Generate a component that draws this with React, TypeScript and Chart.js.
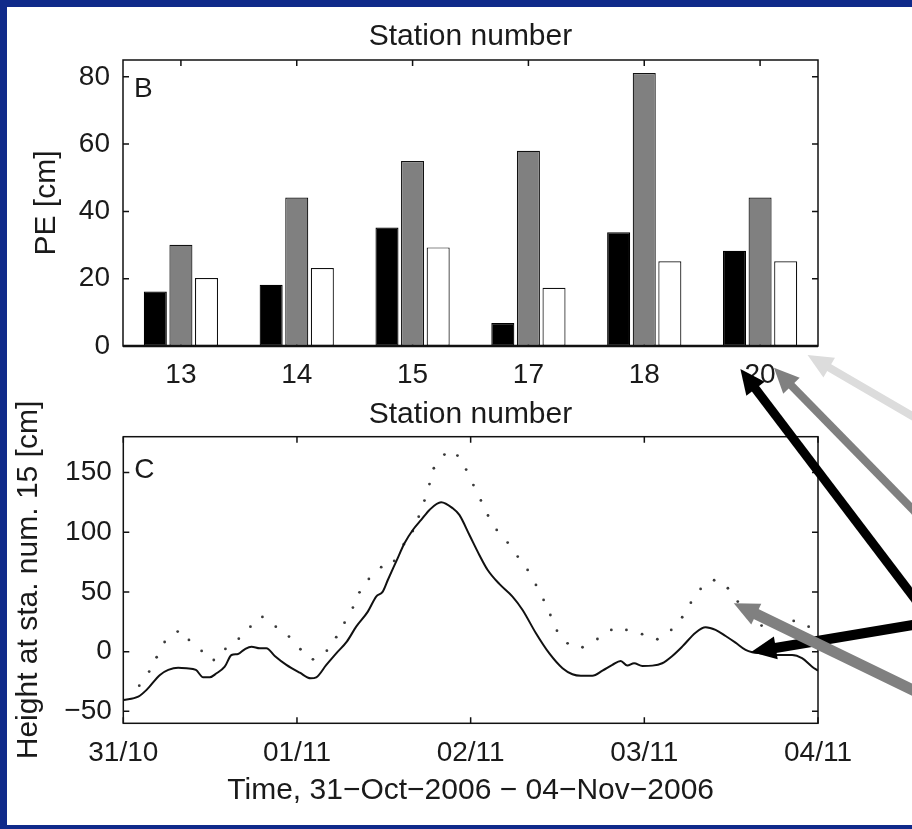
import React, { useEffect, useRef } from 'react';
import { Chart, registerables } from 'chart.js';
Chart.register(...registerables);

// ---------- Panel B : bar chart ----------
const stations = ['13', '14', '15', '17', '18', '20'];
const peBlack = [16.2, 18.2, 35.2, 6.8, 33.8, 28.3];
const peGray = [30.1, 44.1, 55.0, 58.0, 81.1, 44.1];
const peWhite = [20.2, 23.2, 29.3, 17.3, 25.2, 25.2];
const peTicks = [0, 20, 40, 60, 80];

// ---------- Panel C : time series ----------
const timeTicks = [0, 1, 2, 3, 4];
const timeLabels = ['31/10', '01/11', '02/11', '03/11', '04/11'];
const heightTicks = [-50, 0, 50, 100, 150];

const solidX = [0, 0.086, 0.134, 0.211, 0.259, 0.316, 0.364, 0.418, 0.46, 0.498, 0.537, 0.584, 0.623, 0.661, 0.699, 0.738, 0.786, 0.824, 0.872, 0.939, 1.016, 1.079, 1.111, 1.169, 1.226, 1.287, 1.341, 1.408, 1.456, 1.494, 1.523, 1.571, 1.619, 1.667, 1.715, 1.763, 1.83, 1.897, 1.935, 1.993, 2.05, 2.098, 2.165, 2.241, 2.299, 2.376, 2.452, 2.529, 2.586, 2.635, 2.701, 2.759, 2.816, 2.864, 2.902, 2.941, 2.989, 3.046, 3.103, 3.161, 3.218, 3.295, 3.353, 3.41, 3.468, 3.525, 3.583, 3.621, 3.678, 3.755, 3.851, 3.908, 3.966, 4.0];
const solidY = [-40.5, -37.7, -32, -19.5, -15.3, -13.4, -13.9, -15.3, -21.5, -21.5, -18.1, -12.6, -2.8, -1.9, 2, 4.2, 2.8, 2.8, -3.6, -11.1, -17.6, -22.3, -21.5, -11.1, -1.4, 8.4, 20.9, 33.5, 46.1, 50.3, 60, 75.4, 90.8, 101.9, 110.3, 118.7, 125.1, 120.1, 114.5, 97.7, 81, 68.4, 56.7, 46.1, 34.9, 15.4, -1.3, -13.9, -18.9, -20.1, -20.1, -15.9, -11.1, -7.8, -11.7, -9.7, -12, -11.7, -9.7, -3.6, 4.2, 15.9, 20.4, 18.2, 13.1, 7.5, 1.4, -0.5, -1.3, -2.8, -2.8, -5.5, -12.6, -16];

const dotX = [0.092, 0.149, 0.192, 0.238, 0.313, 0.378, 0.451, 0.521, 0.588, 0.665, 0.732, 0.801, 0.878, 0.954, 1.02, 1.092, 1.172, 1.226, 1.274, 1.322, 1.36, 1.414, 1.485, 1.56, 1.615, 1.667, 1.701, 1.734, 1.763, 1.788, 1.849, 1.924, 1.974, 2.016, 2.059, 2.1, 2.15, 2.213, 2.271, 2.328, 2.376, 2.42, 2.459, 2.497, 2.558, 2.644, 2.73, 2.81, 2.897, 2.987, 3.075, 3.155, 3.218, 3.268, 3.324, 3.402, 3.481, 3.538, 3.6, 3.675, 3.77, 3.86, 3.946];
const dotY = [-28.5, -16.7, -4.7, 8.1, 16.8, 9.8, 0.6, -7, 2.3, 10.9, 20.9, 29.1, 20.9, 12.6, 2, -6.4, 0.8, 12.1, 24.3, 36.9, 49.7, 60.9, 70.7, 76, 90, 101, 113, 126.5, 140.3, 153.6, 165, 164.2, 152.5, 139.5, 126.6, 114, 101.9, 91.3, 79.6, 68.4, 55.9, 43.3, 30.7, 17.6, 7, 3.7, 10.6, 18.2, 18.2, 14.6, 10.4, 18.2, 28.8, 41, 52.5, 59.8, 53.1, 41.9, 31, 21.8, 23, 25.7, 20.9];

// ---------- Annotation arrows (anchored in data coordinates) ----------
const arrowsB = [
  { tip: [5.41, -2.7], tail: [6.4, -22.5], color: '#dcdcdc', width: 8 },
  { tip: [5.12, -6.5], tail: [6.4, -51.5], color: '#808080', width: 8 },
  { tip: [4.83, -6.8], tail: [6.4, -78.0], color: '#000000', width: 9 },
];
const arrowsC = [
  { tip: [3.615, -0.3], tail: [4.6, 23.6], color: '#000000', width: 10 },
  { tip: [3.515, 40.5], tail: [4.6, -36.0], color: '#808080', width: 11 },
];

const FONT = "'Liberation Sans', Arial, Helvetica, sans-serif";
const TXT = '#1a1a1a';
const NAVY = '#102a8a';

const W = 912;
const B_TOP = 0, B_H = 436;
const C_TOP = 395, C_H = 434;

const framePlugin = {
  id: 'frame',
  beforeDatasetsDraw(chart: any, _a: any, opts: any) {
    const { ctx, chartArea: a } = chart;
    const xs = chart.scales.x, ys = chart.scales.y;
    const tl = 6;
    ctx.save();
    ctx.strokeStyle = '#111';
    ctx.lineWidth = 1.5;
    ctx.beginPath();
    xs.ticks.forEach((_t: any, i: number) => {
      const p = xs.getPixelForTick(i);
      ctx.moveTo(p, a.bottom); ctx.lineTo(p, a.bottom - tl);
      ctx.moveTo(p, a.top); ctx.lineTo(p, a.top + tl);
    });
    ys.ticks.forEach((_t: any, i: number) => {
      const p = ys.getPixelForTick(i);
      ctx.moveTo(a.left, p); ctx.lineTo(a.left + tl, p);
      ctx.moveTo(a.right, p); ctx.lineTo(a.right - tl, p);
    });
    ctx.stroke();
    ctx.strokeRect(a.left, a.top, a.right - a.left, a.bottom - a.top);
    if (opts.label) {
      ctx.fillStyle = TXT;
      ctx.font = `28px ${FONT}`;
      ctx.textBaseline = 'alphabetic';
      ctx.textAlign = 'left';
      ctx.fillText(opts.label, a.left + 11, a.top + opts.labelDy);
    }
    ctx.restore();
  },
  afterDatasetsDraw(chart: any, _a: any, opts: any) {
    if (!opts.baseWidth) return;
    const { ctx, chartArea: a } = chart;
    ctx.save();
    ctx.strokeStyle = '#111';
    ctx.lineWidth = opts.baseWidth;
    ctx.beginPath();
    ctx.moveTo(a.left, a.bottom); ctx.lineTo(a.right, a.bottom);
    ctx.stroke();
    ctx.restore();
  },
};

function drawArrow(ctx: CanvasRenderingContext2D, x1: number, y1: number, x2: number, y2: number, color: string, w: number) {
  const headLen = 25, headW = 23;
  const ang = Math.atan2(y2 - y1, x2 - x1);
  const c = Math.cos(ang), s = Math.sin(ang);
  const bx = x2 - headLen * c, by = y2 - headLen * s;
  ctx.strokeStyle = color;
  ctx.fillStyle = color;
  ctx.lineWidth = w;
  ctx.lineCap = 'butt';
  ctx.beginPath();
  ctx.moveTo(x1, y1);
  ctx.lineTo(bx + 2 * c, by + 2 * s);
  ctx.stroke();
  ctx.beginPath();
  ctx.moveTo(x2, y2);
  ctx.lineTo(bx + (headW / 2) * s, by - (headW / 2) * c);
  ctx.lineTo(bx - (headW / 2) * s, by + (headW / 2) * c);
  ctx.closePath();
  ctx.fill();
}

export default function App() {
  const refB = useRef<HTMLCanvasElement>(null);
  const refC = useRef<HTMLCanvasElement>(null);
  const refO = useRef<HTMLCanvasElement>(null);

  useEffect(() => {
    const tickFont = { family: FONT, size: 28, weight: 'normal' as const };
    const labFont = { family: FONT, size: 30, weight: 'normal' as const };

    const chartB = new Chart(refB.current as HTMLCanvasElement, {
      type: 'bar',
      data: {
        labels: stations,
        datasets: [
          { data: peBlack, backgroundColor: '#000000', borderColor: '#000000', borderWidth: 1.2, borderSkipped: false },
          { data: peGray, backgroundColor: '#808080', borderColor: '#111111', borderWidth: 1.2, borderSkipped: false },
          { data: peWhite, backgroundColor: '#ffffff', borderColor: '#111111', borderWidth: 1.2, borderSkipped: false },
        ],
      },
      options: {
        animation: false,
        responsive: false,
        devicePixelRatio: 1,
        events: [],
        datasets: { bar: { categoryPercentage: 0.663, barPercentage: 0.9 } },
        layout: { padding: { left: 0, right: 94, top: 0, bottom: 0 } },
        plugins: {
          legend: { display: false },
          tooltip: { enabled: false },
          title: {
            display: true,
            fullSize: false,
            text: 'Station number',
            font: labFont,
            color: TXT,
            padding: { top: 18.5, bottom: 5.5 },
          },
          frame: { label: 'B', labelDy: 37, baseWidth: 2.5 },
        } as any,
        scales: {
          x: {
            type: 'category',
            offset: true,
            grid: { display: false, drawTicks: false },
            border: { display: false },
            ticks: { font: tickFont, color: TXT, padding: 12, maxRotation: 0 },
            title: { display: true, text: 'Station number', font: labFont, color: TXT, padding: { top: 0, bottom: 3.2 } },
            afterFit: (s: any) => { s.height = B_H - 346; },
          },
          y: {
            type: 'linear',
            min: 0,
            max: 85,
            grid: { display: false, drawTicks: false },
            border: { display: false },
            ticks: { font: tickFont, color: TXT, padding: 13 },
            afterBuildTicks: (s: any) => { s.ticks = peTicks.map((v) => ({ value: v })); },
            title: { display: true, text: 'PE [cm]', font: labFont, color: TXT, padding: { top: 29, bottom: 0 } },
            afterFit: (s: any) => { s.width = 123; },
          },
        },
      },
      plugins: [framePlugin],
    } as any);

    const chartC = new Chart(refC.current as HTMLCanvasElement, {
      type: 'line',
      data: {
        datasets: [
          {
            data: solidX.map((x, i) => ({ x, y: solidY[i] })),
            borderColor: '#111111',
            borderWidth: 2,
            pointRadius: 0,
            cubicInterpolationMode: 'monotone',
            fill: false,
          },
          {
            data: dotX.map((x, i) => ({ x, y: dotY[i] })),
            showLine: false,
            pointRadius: 1.4,
            pointBorderWidth: 0,
            pointBackgroundColor: '#3a3a3a',
            borderColor: '#3a3a3a',
          },
        ],
      },
      options: {
        animation: false,
        responsive: false,
        devicePixelRatio: 1,
        events: [],
        layout: { padding: { left: 0, right: 94, top: 41.7, bottom: 0 } },
        plugins: {
          legend: { display: false },
          tooltip: { enabled: false },
          frame: { label: 'C', labelDy: 41.6 },
        } as any,
        scales: {
          x: {
            type: 'linear',
            min: 0,
            max: 4,
            grid: { display: false, drawTicks: false },
            border: { display: false },
            afterBuildTicks: (s: any) => { s.ticks = timeTicks.map((v) => ({ value: v })); },
            ticks: {
              font: tickFont, color: TXT, padding: 13.5, maxRotation: 0, autoSkip: false,
              callback: (v: any) => timeLabels[timeTicks.indexOf(Number(v))] ?? '',
            },
            title: { display: true, text: 'Time, 31\u2212Oct\u22122006 \u2212 04\u2212Nov\u22122006', font: labFont, color: TXT, padding: { top: 0, bottom: 20.5 } },
            afterFit: (s: any) => { s.height = C_H - (723.3 - C_TOP); },
          },
          y: {
            type: 'linear',
            min: -60,
            max: 180,
            grid: { display: false, drawTicks: false },
            border: { display: false },
            afterBuildTicks: (s: any) => { s.ticks = heightTicks.map((v) => ({ value: v })); },
            ticks: {
              font: tickFont, color: TXT, padding: 11.5,
              callback: (v: any) => String(v).replace('-', '\u2212'),
            },
            title: { display: true, text: 'Height at sta. num. 15 [cm]', font: labFont, color: TXT, padding: { top: 11, bottom: 0 } },
            afterFit: (s: any) => { s.width = 123.3; },
          },
        },
      },
      plugins: [framePlugin],
    } as any);

    // overlay arrows
    const oc = refO.current as HTMLCanvasElement;
    const ctx = oc.getContext('2d') as CanvasRenderingContext2D;
    ctx.clearRect(0, 0, oc.width, oc.height);
    const pxB = (p: number[]) => [chartB.scales.x.getPixelForValue(p[0]), chartB.scales.y.getPixelForValue(p[1]) + B_TOP];
    const pxC = (p: number[]) => [chartC.scales.x.getPixelForValue(p[0]), chartC.scales.y.getPixelForValue(p[1]) + C_TOP];
    arrowsB.forEach((a) => {
      const [tx, ty] = pxB(a.tip); const [sx, sy] = pxB(a.tail);
      drawArrow(ctx, sx, sy, tx, ty, a.color, a.width);
    });
    arrowsC.forEach((a) => {
      const [tx, ty] = pxC(a.tip); const [sx, sy] = pxC(a.tail);
      drawArrow(ctx, sx, sy, tx, ty, a.color, a.width);
    });

    return () => {
      chartB.destroy();
      chartC.destroy();
    };
  }, []);

  return (
    <div style={{ position: 'fixed', left: 0, top: 0, width: W, height: 829, background: NAVY, overflow: 'hidden' }}>
      <div style={{ position: 'absolute', left: 7, top: 7, width: W - 7, height: 818, background: '#ffffff' }} />
      <canvas ref={refB} width={W} height={B_H} style={{ position: 'absolute', left: 0, top: B_TOP, width: W, height: B_H }} />
      <canvas ref={refC} width={W} height={C_H} style={{ position: 'absolute', left: 0, top: C_TOP, width: W, height: C_H }} />
      <canvas ref={refO} width={W} height={829} style={{ position: 'absolute', left: 0, top: 0, width: W, height: 829, pointerEvents: 'none' }} />
    </div>
  );
}
